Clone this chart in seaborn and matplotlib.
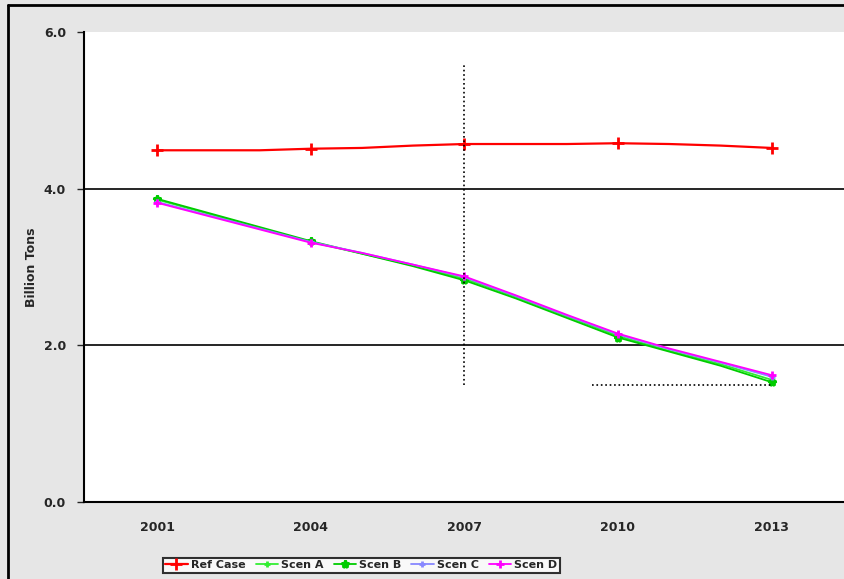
import numpy as np
import pandas as pd
import matplotlib
matplotlib.use('Agg')
import matplotlib.pyplot as plt
import seaborn as sns
from matplotlib.lines import Line2D

years = [2001, 2002, 2003, 2004, 2005, 2006, 2007, 2008, 2009, 2010, 2011, 2012, 2013]
ref_case = [4.49, 4.49, 4.49, 4.51, 4.52, 4.55, 4.57, 4.57, 4.57, 4.58, 4.57, 4.55, 4.52]
scen_a = [3.86, 3.68, 3.50, 3.32, 3.17, 3.02, 2.85, 2.62, 2.37, 2.12, 1.93, 1.76, 1.56]
scen_b = [3.87, 3.69, 3.51, 3.33, 3.17, 3.01, 2.83, 2.60, 2.35, 2.10, 1.92, 1.74, 1.53]
scen_c = [3.83, 3.66, 3.49, 3.32, 3.18, 3.03, 2.87, 2.63, 2.38, 2.14, 1.95, 1.78, 1.60]
scen_d = [3.82, 3.65, 3.48, 3.31, 3.18, 3.03, 2.88, 2.64, 2.39, 2.15, 1.96, 1.79, 1.62]
x_ticks = [2001, 2004, 2007, 2010, 2013]
y_ticks = [0.0, 2.0, 4.0, 6.0]

sns.set_style('white')
plt.rcParams['font.family'] = ['DejaVu Sans']

fig = plt.figure(figsize=(8.45, 5.79), dpi=100, facecolor='#e6e6e6')
fig.patch.set_linewidth(0)
ax = fig.add_axes([84 / 845, 1 - 502 / 579, 1 - 84 / 845 + 0.01, (502 - 32) / 579])
ax.set_facecolor('white')

# rahmen links und oben
fig.lines.append(Line2D([8 / 845, 8 / 845], [0, 1 - 5 / 579], transform=fig.transFigure,
                        color='black', lw=2))
fig.lines.append(Line2D([8 / 845, 1], [1 - 5 / 579, 1 - 5 / 579], transform=fig.transFigure,
                        color='black', lw=2))

series = [
    ('Ref Case', ref_case, '#ff0000', '+', 1.6, 8),
    ('Scen A', scen_a, '#33ee33', '+', 1.3, 5),
    ('Scen B', scen_b, '#00cc00', '*', 1.3, 6),
    ('Scen C', scen_c, '#8888ff', '+', 1.3, 5),
    ('Scen D', scen_d, '#ff00ff', '+', 1.3, 6),
]
for name, vals, col, mk, lw, ms in series:
    df = pd.DataFrame({'year': years, 'value': vals})
    sns.lineplot(data=df, x='year', y='value', ax=ax, color=col, lw=lw,
                 marker=mk, markersize=ms, markevery=3, markeredgewidth=2,
                 markeredgecolor=col, markerfacecolor=col, label=name)

# gridlines nur bei 2 und 4
for yv in y_ticks[1:3]:
    ax.axhline(yv, color='black', lw=1.2, zorder=0.5)

# gepunktete hilfslinien
ax.plot([2007, 2007], [1.49, 5.58], color='black', ls=':', lw=1.2)
ax.plot([2009.5, 2013], [1.49, 1.49], color='black', ls=':', lw=1.2)

ax.set_xlim(1999.57, 2014.6)
ax.set_ylim(0, 6)
ax.set_xticks(x_ticks)
ax.set_xticklabels([str(x) for x in x_ticks], fontsize=9, fontweight='bold')
ax.set_yticks(y_ticks)
ax.set_yticklabels([f'{y:.1f}' for y in y_ticks], fontsize=9, fontweight='bold')
ax.tick_params(axis='y', length=5, width=1, left=True, pad=8)
ax.tick_params(axis='x', length=0, pad=14)
ax.set_xlabel('')
ax.set_ylabel('Billion Tons', fontsize=9, fontweight='bold', labelpad=4)

for s in ['top', 'right']:
    ax.spines[s].set_visible(False)
for s in ['left', 'bottom']:
    ax.spines[s].set_color('black')
    ax.spines[s].set_linewidth(1.5)

leg = ax.legend(loc='upper left', ncol=5, prop={'size': 8, 'weight': 'bold'},
                frameon=True, fancybox=False, edgecolor='black',
                borderpad=0.25, columnspacing=0.9, handlelength=2.0,
                handletextpad=0.3)
leg.get_frame().set_linewidth(1.5)
leg.get_frame().set_facecolor('white')
leg.set_bbox_to_anchor((157 / 845, 1 - 552 / 579), transform=fig.transFigure)

plt.savefig('out.png', dpi=100, facecolor=fig.get_facecolor())
